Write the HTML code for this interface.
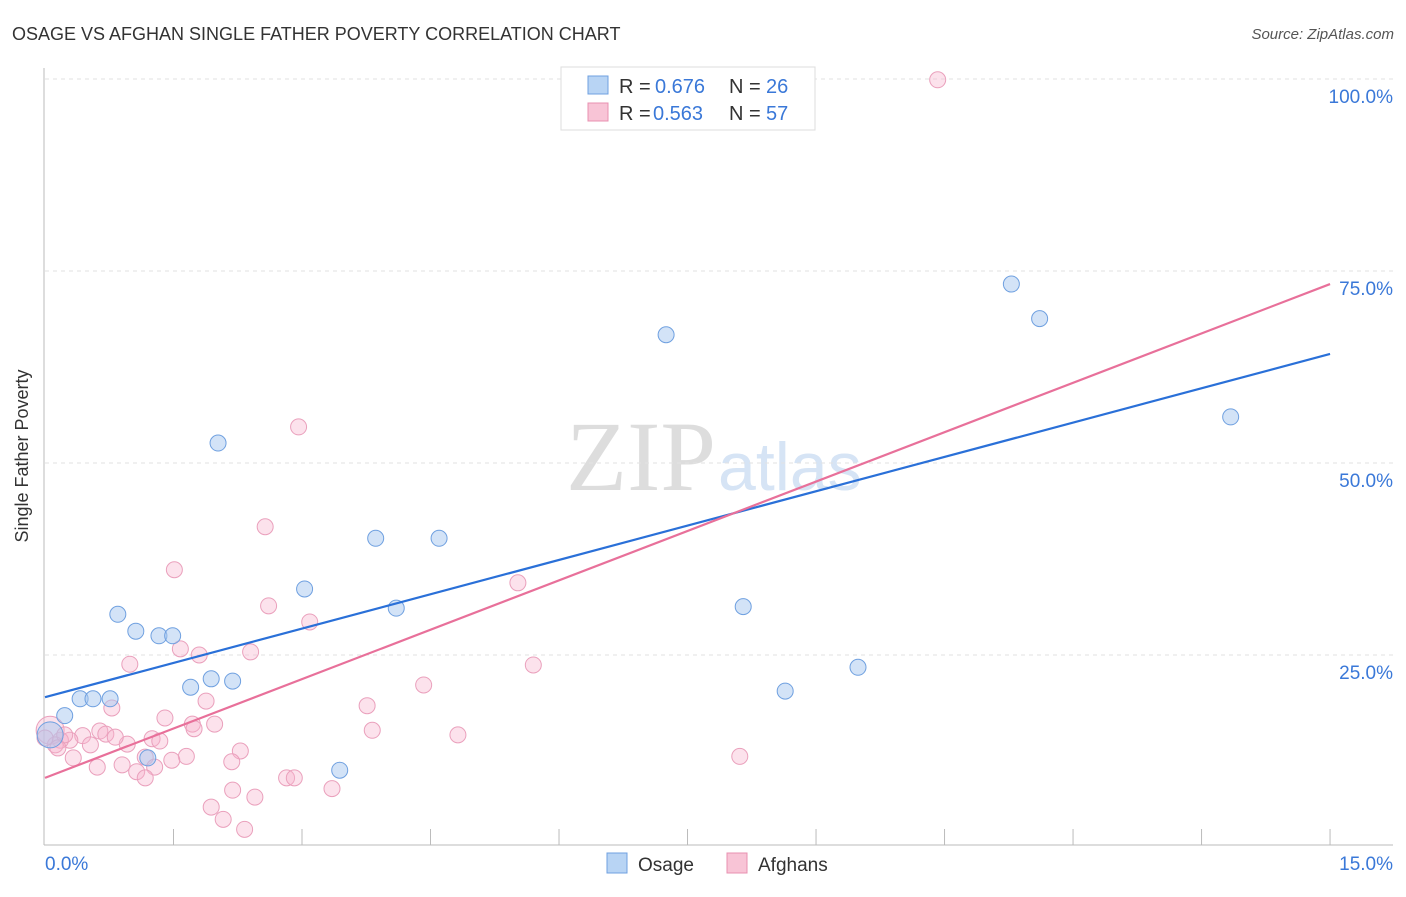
<!DOCTYPE html>
<html><head><meta charset="utf-8"><style>
body{margin:0;background:#fff;font-family:"Liberation Sans",sans-serif;}
</style></head><body>
<svg id="chart" width="1406" height="892" xmlns="http://www.w3.org/2000/svg">
<text x="12" y="40" font-size="18" fill="#333">OSAGE VS AFGHAN SINGLE FATHER POVERTY CORRELATION CHART</text>
<text x="1394" y="39" font-size="15" fill="#555" font-style="italic" text-anchor="end">Source: ZipAtlas.com</text>
<text x="716" y="490" font-size="100" fill="#ddd" text-anchor="end" font-family="Liberation Serif,serif">ZIP</text>
<text x="718" y="490" font-size="68" fill="#d6e4f5">atlas</text>
<g id="grid"></g>
<g id="axes"></g>
<g id="marks"></g>
<text x="28" y="456" font-size="18" fill="#333" text-anchor="middle" transform="rotate(-90 28 456)">Single Father Poverty</text>
<g>
<rect x="561" y="67" width="254" height="63" fill="#fff" stroke="#ddd"/>
<rect x="588" y="76" width="20" height="18" fill="#b8d4f4" stroke="#6fa0e0"/>
<text x="619" y="93" font-size="20" fill="#333">R = </text>
<text x="655" y="93" font-size="20" fill="#3a78d8">0.676</text>
<text x="729" y="93" font-size="20" fill="#333">N = </text>
<text x="766" y="93" font-size="20" fill="#3a78d8">26</text>
<rect x="588" y="103" width="20" height="18" fill="#f8c4d6" stroke="#e890b0"/>
<text x="619" y="120" font-size="20" fill="#333">R = </text>
<text x="653" y="120" font-size="20" fill="#3a78d8">0.563</text>
<text x="729" y="120" font-size="20" fill="#333">N = </text>
<text x="766" y="120" font-size="20" fill="#3a78d8">57</text>
</g>
<g>
<rect x="607" y="853" width="20" height="20" fill="#b8d4f4" stroke="#6fa0e0"/>
<text x="638" y="871" font-size="19" fill="#333">Osage</text>
<rect x="727" y="853" width="20" height="20" fill="#f8c4d6" stroke="#e890b0"/>
<text x="758" y="871" font-size="19" fill="#333">Afghans</text>
</g>
</svg>
<script>
const yTicks=[25,50,75,100];
const yTickLabels=["25.0%","50.0%","75.0%","100.0%"];
const xTickLabels=["0.0%","15.0%"];
const osageX=[0.23,0.41,0.56,0.76,0.85,1.06,1.33,1.49,1.20,1.70,1.94,2.19,2.02,3.03,3.44,3.86,4.10,4.60,7.25,8.15,8.64,9.49,11.28,11.61,13.84,0.06];
const osageY=[17.1,19.3,19.3,19.3,30.3,28.1,27.5,27.5,11.6,20.8,21.9,21.6,52.6,33.6,10.0,40.2,31.1,40.2,66.7,31.3,20.3,23.4,73.3,68.8,56.0,14.6];
const afgX=[10.42,2.96,2.57,1.51,5.52,2.61,3.09,0.99,1.58,1.80,2.40,5.70,4.42,3.76,3.82,4.82,0.78,1.40,1.88,1.98,1.72,1.74,0.64,0.71,0.44,0.29,0.18,0.53,0.96,1.25,1.34,0.82,2.28,1.65,1.48,1.17,0.33,0.61,0.90,1.07,1.28,1.17,2.18,2.82,2.91,3.35,2.19,2.45,1.94,2.08,2.33,8.11,0.06,0.12,0.0,0.23,0.15];
const afgY=[99.9,54.7,41.7,36.1,34.4,31.4,29.3,23.8,25.8,25.0,25.4,23.7,21.1,18.4,15.2,14.6,18.1,16.8,19.0,16.0,16.0,15.4,15.1,14.7,14.5,13.9,13.9,13.3,13.4,14.1,13.8,14.3,12.5,11.8,11.3,11.7,11.6,10.4,10.7,9.8,10.4,9.0,11.1,9.0,9.0,7.6,7.4,6.5,5.2,3.6,2.3,11.8,15.2,13.3,14.2,14.6,12.9];
const osageTrend=[19.5,64.2];
const afgTrend=[9.0,73.3];
const xs=v=>45+v*85.67;
const ys=v=>847-v*7.68;
const NS="http://www.w3.org/2000/svg";
function mk(tag,attrs,parent){const e=document.createElementNS(NS,tag);for(const k in attrs)e.setAttribute(k,attrs[k]);document.getElementById(parent).appendChild(e);return e;}
yTicks.forEach((t,i)=>{
  const l=mk('line',{x1:45,x2:1393,y1:ys(t),y2:ys(t),stroke:'#e2e2e2','stroke-dasharray':'4,4'},'grid');
  
  
  const tx=mk('text',{x:1393,y:ys(t)+24,'font-size':19,fill:'#3a78d8','text-anchor':'end'},'grid');
  tx.textContent=yTickLabels[i];
  
  
});
let a=mk('line',{x1:44,x2:44,y1:68,y2:845,stroke:'#bbb'},'axes');


a=mk('line',{x1:44,x2:1393,y1:845,y2:845,stroke:'#bbb'},'axes');


for(let i=1;i<=10;i++){
  const t=mk('line',{x1:xs(i*1.5),x2:xs(i*1.5),y1:829,y2:845,stroke:'#bbb'},'axes');
  
  
}
[[0,'start',45],[15,'end',1393]].forEach((d,i)=>{
  const t=mk('text',{x:d[2],y:870,'font-size':19,fill:'#3a78d8','text-anchor':d[1]},'axes');
  t.textContent=xTickLabels[i];
  
  
});
afgX.forEach((x,i)=>{
  const c=mk('circle',{cx:xs(x),cy:ys(afgY[i]),r:(i==52?14:8),fill:'rgba(246,180,204,0.38)',stroke:'#eaa0bc','stroke-width':1},'marks');
  
  
});
osageX.forEach((x,i)=>{
  const c=mk('circle',{cx:xs(x),cy:ys(osageY[i]),r:(i==25?13:8),fill:'rgba(168,200,240,0.5)',stroke:'#6fa0e0','stroke-width':1},'marks');
  
  
});
let tl=mk('line',{x1:xs(0),y1:ys(osageTrend[0]),x2:xs(15),y2:ys(osageTrend[1]),stroke:'#2a70d8','stroke-width':2.2},'marks');


tl=mk('line',{x1:xs(0),y1:ys(afgTrend[0]),x2:xs(15),y2:ys(afgTrend[1]),stroke:'#e8709a','stroke-width':2.2},'marks');


</script>
</body></html>
